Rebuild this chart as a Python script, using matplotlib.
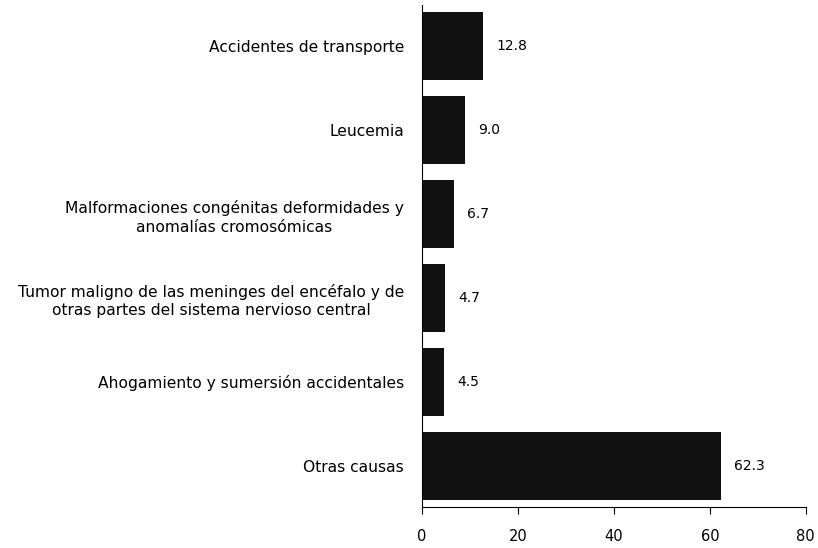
import matplotlib.pyplot as plt

# Causas de muerte (porcentaje)
causas = ['Otras causas',
          'Ahogamiento y sumersión accidentales',
          'Tumor maligno de las meninges del encéfalo y de\notras partes del sistema nervioso central',
          'Malformaciones congénitas deformidades y\nanomalías cromosómicas',
          'Leucemia',
          'Accidentes de transporte']
valores = [62.3, 4.5, 4.7, 6.7, 9.0, 12.8]
etiquetas = ['62.3', '4.5', '4.7', '6.7', '9.0', '12.8']
xticks = [0, 20, 40, 60, 80]

plt.rcParams['font.family'] = ['DejaVu Sans']

fig = plt.figure(figsize=(8.18, 5.48), dpi=100)
ax = fig.add_axes([0.516, 0.075, 0.469, 0.916])

pos = list(range(len(causas)))
ax.barh(pos, valores, height=0.81, color='#111111')

for p, v, t in zip(pos, valores, etiquetas):
    ax.annotate(t, (v, p), xytext=(9.5, 0), textcoords='offset points',
                va='center', ha='left', fontsize=10)

ax.set_xlim(0, 80)
ax.set_ylim(-0.49, 5.49)
ax.set_xticks(xticks)
ax.set_xticklabels([str(x) for x in xticks], fontsize=10.5)
ax.set_yticks(pos)
ax.set_yticklabels(causas, fontsize=11.2, multialignment='center', linespacing=1.3)

ax.spines['top'].set_visible(False)
ax.spines['right'].set_visible(False)
ax.tick_params(axis='y', length=0, pad=13)
ax.tick_params(axis='x', length=5, pad=11)

fig.savefig('out.png', dpi=100)
